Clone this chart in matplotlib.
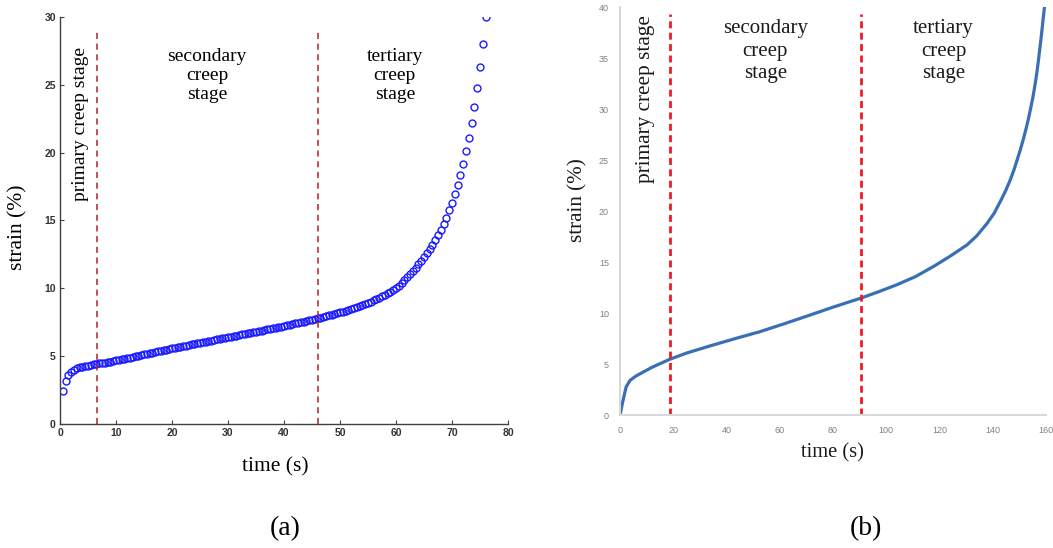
import matplotlib
matplotlib.use("Agg")
import matplotlib.pyplot as plt
import numpy as np

# ---------- data ----------
# (a) measured strain, one sample every 0.5 s
time_a = np.arange(0.5, 76.01, 0.5)
strain_a = [
    2.40, 3.20, 3.60, 3.85, 4.00, 4.10, 4.17, 4.22, 4.27, 4.31,
    4.35, 4.39, 4.43, 4.46, 4.50, 4.53, 4.57, 4.60, 4.64, 4.68,
    4.72, 4.77, 4.81, 4.86, 4.90, 4.95, 4.99, 5.04, 5.08, 5.13,
    5.17, 5.22, 5.26, 5.31, 5.35, 5.40, 5.44, 5.49, 5.53, 5.58,
    5.62, 5.66, 5.70, 5.74, 5.78, 5.82, 5.86, 5.90, 5.94, 5.98,
    6.02, 6.06, 6.10, 6.14, 6.18, 6.23, 6.27, 6.31, 6.35, 6.39,
    6.43, 6.47, 6.51, 6.56, 6.60, 6.64, 6.68, 6.72, 6.76, 6.80,
    6.85, 6.89, 6.93, 6.97, 7.01, 7.06, 7.10, 7.14, 7.18, 7.22,
    7.27, 7.31, 7.36, 7.41, 7.46, 7.50, 7.55, 7.60, 7.65, 7.69,
    7.74, 7.79, 7.84, 7.90, 7.95, 8.01, 8.06, 8.12, 8.17, 8.23,
    8.29, 8.36, 8.43, 8.50, 8.57, 8.64, 8.72, 8.79, 8.86, 8.94,
    9.02, 9.11, 9.20, 9.30, 9.40, 9.51, 9.62, 9.74, 9.87, 10.00,
    10.18, 10.37, 10.58, 10.80, 11.03, 11.27, 11.52, 11.78, 12.05, 12.33,
    12.60, 12.90, 13.20, 13.55, 13.90, 14.30, 14.75, 15.20, 15.77, 16.30,
    16.95, 17.60, 18.35, 19.16, 20.10, 21.10, 22.20, 23.40, 24.76, 26.30,
    28.00, 30.00,
]
stage_lines_a = [6.6, 46.1]

# (b) model curve
time_b = [0, 1, 2.3, 3.8, 6, 8.8, 12, 18.5, 25, 33.8, 43, 52.6, 62, 71.4, 80,
          90.6, 97, 104, 111, 117.8, 124, 130.3, 134, 137.8, 140.5, 142.9,
          144.8, 146.6, 148, 149.1, 150.3, 151.5, 152.5, 153.5, 154.3, 155,
          155.6, 156.1, 156.6, 157.1, 157.6, 158.1, 158.6, 159.0, 159.4]
strain_b = [0, 1.3, 2.78, 3.43, 3.85, 4.25, 4.7, 5.47, 6.1, 6.8, 7.5, 8.2, 9.0,
            9.83, 10.6, 11.5, 12.1, 12.8, 13.6, 14.6, 15.6, 16.7, 17.6, 18.8,
            19.8, 21.0, 22.0, 23.1, 24.1, 25.0, 26.0, 27.1, 28.1, 29.2, 30.2,
            31.1, 32.0, 32.8, 33.7, 34.7, 35.8, 36.9, 38.1, 39.1, 40.0]
stage_lines_b = [18.7, 90.6]

xticks_a = np.arange(0, 81, 10)
yticks_a = np.arange(0, 31, 5)
xticks_b = np.arange(0, 161, 20)
yticks_b = np.arange(0, 41, 5)

serif = "Liberation Serif"
plt.rcParams["font.family"] = ["Liberation Sans", "DejaVu Sans"]

fig = plt.figure(figsize=(10.53, 5.48), dpi=100)

# ---------- panel (a) ----------
ax = fig.add_axes([0.057, 0.2263, 0.4254, 0.7427])
ax.plot(time_a, strain_a, linestyle="none", marker="o", markersize=5,
        markerfacecolor="none", markeredgecolor="#1a1aff", markeredgewidth=1.0)
ax.vlines(stage_lines_a, 0, 29.1, colors="#b22222", linestyles=(0, (4, 3)),
          linewidth=1.1)
ax.set_xlim(0, 80)
ax.set_ylim(0, 30)
ax.set_xticks(xticks_a)
ax.set_yticks(yticks_a)
for s in ["top", "right"]:
    ax.spines[s].set_visible(False)
for s in ["left", "bottom"]:
    ax.spines[s].set_color("#404040")
    ax.spines[s].set_linewidth(1.0)
ax.tick_params(direction="in", length=3, width=0.8, color="#404040",
               labelsize=7.5, labelcolor="#333333", pad=3)
for lab in ax.get_xticklabels() + ax.get_yticklabels():
    lab.set_fontweight("bold")

ax.text(26.25, 25.7, "secondary\ncreep\nstage", family=serif, fontsize=14,
        ha="center", va="center", linespacing=1.15)
ax.text(59.8, 25.7, "tertiary\ncreep\nstage", family=serif, fontsize=14,
        ha="center", va="center", linespacing=1.15)
ax.text(3.57, 22.1, "primary creep stage", family=serif, fontsize=14,
        rotation=90, ha="center", va="center")

fig.text(0.017, 0.585, "strain (%)", family=serif, fontsize=15.5,
         rotation=90, ha="center", va="center")
fig.text(0.261, 0.148, "time (s)", family=serif, fontsize=15.5,
         ha="center", va="center")
fig.text(0.2707, 0.035, "(a)", family=serif, fontsize=20,
         ha="center", va="center")

# ---------- panel (b) ----------
bx = fig.add_axes([0.5888, 0.2422, 0.4046, 0.7445])
bx.plot(time_b, strain_b, color="#3a6fb5", linewidth=2.3,
        solid_capstyle="round", solid_joinstyle="round")
bx.vlines(stage_lines_b, 0, 39.3, colors="#ee1c25", linestyles=(0, (2.5, 1.6)),
          linewidth=2.0)
bx.set_xlim(0, 160)
bx.set_ylim(0, 40)
bx.set_xticks(xticks_b)
bx.set_yticks(yticks_b)
for s in ["top", "right"]:
    bx.spines[s].set_visible(False)
for s in ["left", "bottom"]:
    bx.spines[s].set_color("#d9d9d9")
    bx.spines[s].set_linewidth(1.5)
bx.tick_params(length=0, labelsize=6.5, labelcolor="#808080", pad=8)

bx.text(54.6, 35.7, "secondary\ncreep\nstage", family=serif, fontsize=15,
        ha="center", va="center", linespacing=1.25, color="#1a1a1a")
bx.text(121.5, 35.7, "tertiary\ncreep\nstage", family=serif, fontsize=15,
        ha="center", va="center", linespacing=1.25, color="#1a1a1a")
bx.text(9.4, 31.0, "primary creep stage", family=serif, fontsize=15.3,
        rotation=90, ha="center", va="center", color="#1a1a1a")

fig.text(0.549, 0.635, "strain (%)", family=serif, fontsize=15.2,
         rotation=90, ha="center", va="center", color="#1a1a1a")
fig.text(0.791, 0.174, "time (s)", family=serif, fontsize=14.8,
         ha="center", va="center", color="#1a1a1a")
fig.text(0.8224, 0.035, "(b)", family=serif, fontsize=20,
         ha="center", va="center")

fig.savefig("out.png", dpi=100)
